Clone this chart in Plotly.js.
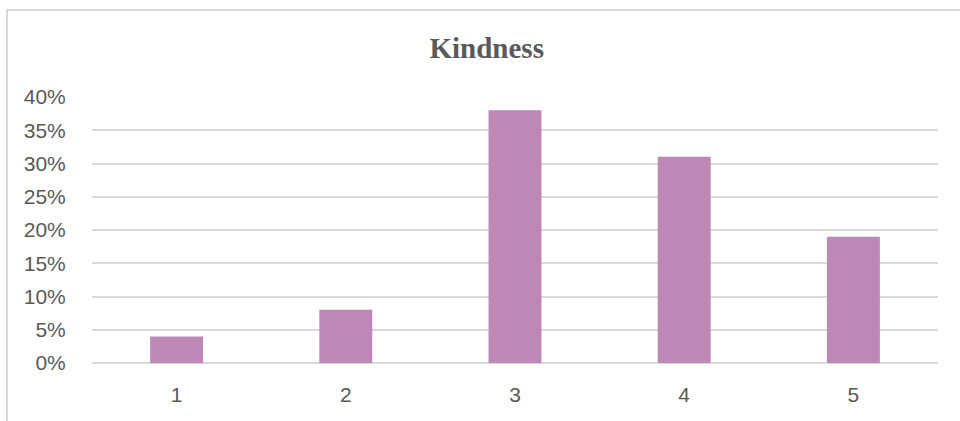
<!DOCTYPE html>
<html>
<head>
<meta charset="utf-8">
<script src="https://cdn.plot.ly/plotly-3.0.1.min.js"></script>
<style>
  html, body { margin: 0; padding: 0; background: #ffffff; }
  #wrap { position: relative; width: 960px; height: 421px; overflow: hidden; }
  #frame {
    position: absolute; left: 6px; top: 9px; width: 1000px; height: 500px;
    border-left: 2px solid #d9d9d9; border-top: 2px solid #d9d9d9;
    box-sizing: border-box; pointer-events: none; z-index: 2;
  }
  #chart { position: absolute; left: 0; top: 0; width: 960px; height: 421px; }
</style>
</head>
<body>
<div id="wrap">
  <div id="chart"></div>
  <div id="frame"></div>
</div>
<script>
// Rating scale and share of responses per rating
const ratings = ['1', '2', '3', '4', '5'];
const shares = [0.04, 0.08, 0.38, 0.31, 0.19];
const chartTitle = 'Kindness';

const textColor = '#595959';
const gridColor = '#d9d9d9';

const trace = {
  type: 'bar',
  x: ratings,
  y: shares,
  marker: { color: '#be88b6' },
  hoverinfo: 'x+y'
};

const layout = {
  width: 960,
  height: 421,
  margin: { l: 92, r: 22, t: 97, b: 58 },
  paper_bgcolor: 'rgba(0,0,0,0)',
  plot_bgcolor: 'rgba(0,0,0,0)',
  bargap: 0.687,
  showlegend: false,
  title: {
    text: '<b>' + chartTitle + '</b>',
    font: { family: 'Liberation Serif, Times New Roman, serif', size: 29, color: textColor },
    xref: 'container', x: 0.507, xanchor: 'center',
    yref: 'container', y: 0.886, yanchor: 'middle'
  },
  xaxis: {
    type: 'category',
    showgrid: false,
    showline: false,
    zeroline: false,
    ticks: 'outside',
    ticklen: 13,
    tickcolor: 'rgba(0,0,0,0)',
    tickfont: { family: 'Liberation Sans, Arial, sans-serif', size: 21, color: textColor }
  },
  yaxis: {
    range: [0, 0.4],
    dtick: 0.05,
    tickformat: '.0%',
    showgrid: true,
    gridcolor: gridColor,
    gridwidth: 2,
    zeroline: true,
    zerolinecolor: gridColor,
    zerolinewidth: 2,
    showline: false,
    ticks: 'outside',
    ticklen: 21,
    tickcolor: 'rgba(0,0,0,0)',
    tickfont: { family: 'Liberation Sans, Arial, sans-serif', size: 21, color: textColor }
  }
};

Plotly.newPlot('chart', [trace], layout, { displayModeBar: false, staticPlot: true });
</script>
</body>
</html>
